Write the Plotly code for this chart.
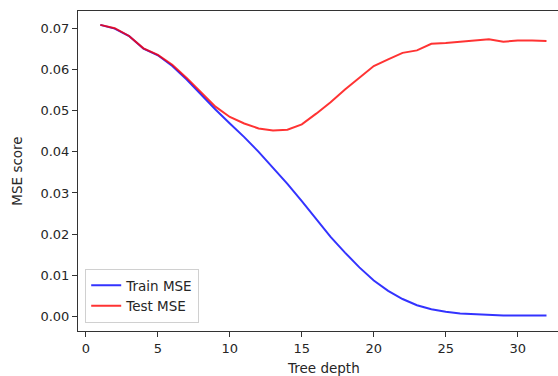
import plotly.graph_objects as go

depth = list(range(1, 33))
train_mse = [0.0709, 0.0700, 0.0682, 0.0651, 0.0635, 0.0609, 0.0576, 0.0539, 0.0503, 0.0469,
             0.0436, 0.0400, 0.0362, 0.0322, 0.0280, 0.0236, 0.0193, 0.0155, 0.0119, 0.0087,
             0.0062, 0.0042, 0.0027, 0.0017, 0.0011, 0.0007, 0.0005, 0.0003, 0.0002, 0.0002,
             0.0002, 0.0002]
test_mse = [0.0709, 0.0701, 0.0682, 0.0652, 0.0636, 0.0612, 0.0580, 0.0546, 0.0510, 0.0485,
            0.0469, 0.0457, 0.0452, 0.0454, 0.0467, 0.0493, 0.0521, 0.0552, 0.0581, 0.0609,
            0.0625, 0.0641, 0.0647, 0.0663, 0.0665, 0.0668, 0.0670, 0.0674, 0.0668, 0.0671,
            0.0671, 0.0670]
x_ticks = [0, 5, 10, 15, 20, 25, 30]
y_ticks = [0.00, 0.01, 0.02, 0.03, 0.04, 0.05, 0.06, 0.07]

FONT = "DejaVu Sans"
TXT = "#262626"
fig = go.Figure()
fig.add_trace(go.Scatter(x=depth, y=train_mse, mode="lines", name="Train MSE",
                         line=dict(color="rgba(0,0,255,0.8)", width=2)))
fig.add_trace(go.Scatter(x=depth, y=test_mse, mode="lines", name="Test MSE",
                         line=dict(color="rgba(255,0,0,0.8)", width=2)))

fig.update_layout(
    width=558, height=376,
    margin=dict(l=78, r=0, t=11, b=45),
    paper_bgcolor="white", plot_bgcolor="white",
    font=dict(family=FONT, size=13, color=TXT),
    showlegend=True,
    legend=dict(x=0.015, y=0.025, xanchor="left", yanchor="bottom",
                bordercolor="#d0d0d0", borderwidth=1, bgcolor="rgba(255,255,255,0.8)",
                font=dict(family=FONT, size=13.5, color=TXT),
                itemwidth=30, tracegroupgap=2),
    xaxis=dict(range=[-0.55, 32.80], tickvals=x_ticks, ticktext=[str(t) for t in x_ticks],
               showgrid=False, zeroline=False, showline=True, linecolor="#333333", linewidth=1,
               mirror=True, ticks="outside", ticklen=5, tickcolor="#333333",
               tickfont=dict(family=FONT, size=13, color=TXT)),
    yaxis=dict(range=[-0.00358, 0.07428], tickvals=y_ticks,
               ticktext=[f"{t:.2f}" for t in y_ticks],
               showgrid=False, zeroline=False, showline=True, linecolor="#333333", linewidth=1,
               ticks="outside", ticklen=5, tickcolor="#333333",
               tickfont=dict(family=FONT, size=13, color=TXT),
               title=dict(text="MSE score", font=dict(family=FONT, size=13.5, color=TXT),
                          standoff=14)),
    annotations=[dict(text="Tree depth", xref="x", yref="paper", x=16.5, y=0,
                      yshift=-37, showarrow=False, xanchor="center", yanchor="middle",
                      font=dict(family=FONT, size=13.5, color=TXT))],
)

fig.write_html("out.html")
